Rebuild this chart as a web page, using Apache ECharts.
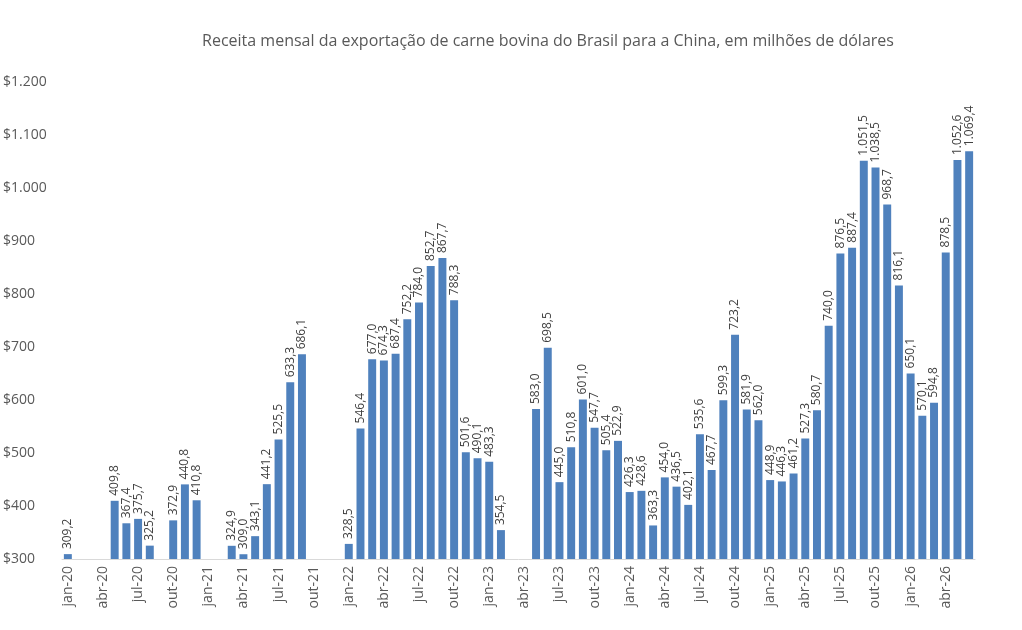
<!DOCTYPE html>
<html>
<head>
<meta charset="utf-8">
<script src="https://cdn.jsdelivr.net/npm/echarts@6/dist/echarts.min.js"></script>
<style>
  html, body { margin: 0; padding: 0; background: #fff; }
  #canvas { width: 1022px; height: 630px; }
</style>
</head>
<body>
<div id="canvas"></div>
<script>
var mesesAbrev = ['jan', 'fev', 'mar', 'abr', 'mai', 'jun', 'jul', 'ago', 'set', 'out', 'nov', 'dez'];
var anos = ['20', '21', '22', '23', '24', '25', '26'];

// receita mensal em milhões de US$ (null = sem dado)
var receita2020 = [309.2, null, null, null, 409.8, 367.4, 375.7, 325.2, null, 372.9, 440.8, 410.8];
var receita2021 = [null, null, 324.9, 309.0, 343.1, 441.2, 525.5, 633.3, 686.1, null, null, null];
var receita2022 = [328.5, 546.4, 677.0, 674.3, 687.4, 752.2, 784.0, 852.7, 867.7, 788.3, 501.6, 490.1];
var receita2023 = [483.3, 354.5, null, null, 583.0, 698.5, 445.0, 510.8, 601.0, 547.7, 505.4, 522.9];
var receita2024 = [426.3, 428.6, 363.3, 454.0, 436.5, 402.1, 535.6, 467.7, 599.3, 723.2, 581.9, 562.0];
var receita2025 = [448.9, 446.3, 461.2, 527.3, 580.7, 740.0, 876.5, 887.4, 1051.5, 1038.5, 968.7, 816.1];
var receita2026 = [650.1, 570.1, 594.8, 878.5, 1052.6, 1069.4];

var categorias = [];
anos.forEach(function (a) {
    mesesAbrev.forEach(function (m) { categorias.push(m + '-' + a); });
});
var valores = [].concat(receita2020, receita2021, receita2022, receita2023, receita2024, receita2025, receita2026);
categorias = categorias.slice(0, valores.length);

function fmtNum(v, dec) {
    var s = v.toFixed(dec);
    var partes = s.split('.');
    partes[0] = partes[0].replace(/\B(?=(\d{3})+(?!\d))/g, '.');
    return partes.join(',');
}

var fonte = '"Open Sans", "Liberation Sans", sans-serif';
var myChart = echarts.init(document.getElementById('canvas'));

var option = {
    animation: false,
    title: {
        text: 'Receita mensal da exportação de carne bovina do Brasil para a China, em milhões de dólares',
        left: 543,
        textAlign: 'center',
        top: 28,
        textStyle: { fontFamily: fonte, fontSize: 16, fontWeight: 'normal', color: '#595959' }
    },
    grid: { left: 61, right: 47, top: 82, bottom: 71, containLabel: false },
    xAxis: {
        type: 'category',
        data: categorias,
        axisLine: { lineStyle: { color: '#d9d9d9' } },
        axisTick: { show: false },
        axisLabel: {
            interval: 2,
            rotate: 90,
            fontFamily: fonte,
            fontSize: 14,
            color: '#595959',
            margin: 7
        }
    },
    yAxis: {
        type: 'value',
        min: 300,
        max: 1200,
        interval: 100,
        splitLine: { show: false },
        axisLine: { show: false },
        axisTick: { show: false },
        axisLabel: {
            fontFamily: fonte,
            fontSize: 14,
            color: '#595959',
            align: 'left',
            margin: 59,
            formatter: function (v) { return '$' + fmtNum(v, 0); }
        }
    },
    series: [{
        type: 'bar',
        data: valores,
        barCategoryGap: '32%',
        itemStyle: { color: '#4f81bd' },
        label: {
            show: true,
            position: 'top',
            rotate: 90,
            align: 'left',
            verticalAlign: 'middle',
            distance: 5,
            fontFamily: fonte,
            fontSize: 12,
            color: '#404040',
            formatter: function (p) { return fmtNum(p.value, 1); }
        }
    }]
};

myChart.setOption(option);
</script>
</body>
</html>
